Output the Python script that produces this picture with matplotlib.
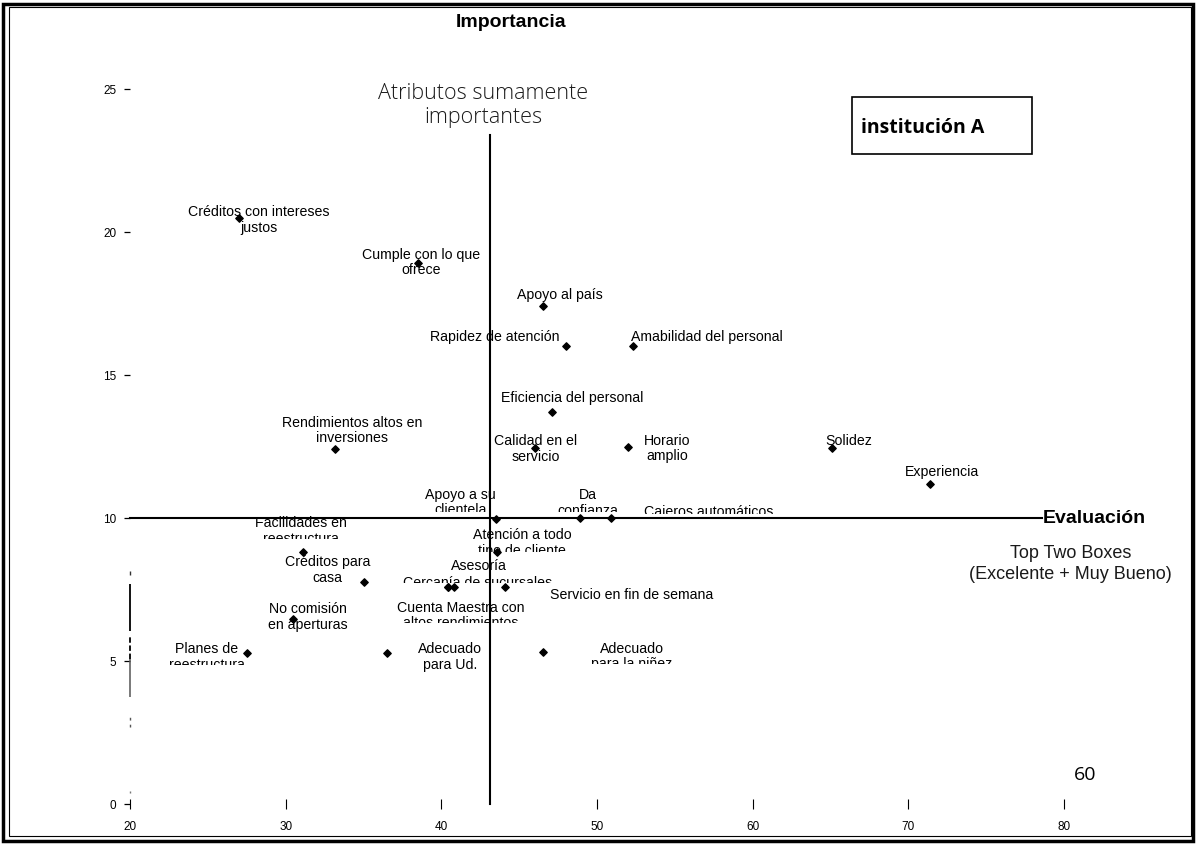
import matplotlib
matplotlib.use("Agg")
import matplotlib.pyplot as plt
from matplotlib.patches import Rectangle
from matplotlib.transforms import Bbox, TransformedBbox

# ---------------- data ----------------
atributos = [
    "Créditos con intereses\njustos",
    "Cumple con lo que\nofrece",
    "Apoyo al país",
    "Rapidez de atención",
    "Amabilidad del personal",
    "Eficiencia del personal",
    "Calidad en el\nservicio",
    "Horario\namplio",
    "Rendimientos altos en\ninversiones",
    "Solidez",
    "Experiencia",
    "Apoyo a su\nclientela",
    "Da\nconfianza",
    "Cajeros automáticos",
    "Facilidades en\nreestructura",
    "Atención a todo\ntipo de cliente",
    "Créditos para\ncasa",
    "Asesoría",
    "Cercanía de sucursales",
    "Servicio en fin de semana",
    "No comisión\nen aperturas",
    "Cuenta Maestra con\naltos rendimientos",
    "Planes de\nreestructura",
    "Adecuado\npara Ud.",
    "Adecuado\npara la niñez",
]
evaluacion = [27.0, 38.5, 46.5, 48.0, 52.3, 47.1, 46.0, 52.0, 33.2, 65.1, 71.4,
              43.5, 48.9, 50.9, 31.1, 43.6, 35.0, 40.8, 40.4, 44.1, 30.5, 40.4,
              27.5, 36.5, 46.5]
importancia = [20.5, 18.9, 17.4, 16.0, 16.0, 13.7, 12.45, 12.5, 12.4, 12.45, 11.2,
               9.95, 10.0, 10.0, 8.8, 8.8, 7.76, 7.6, 7.6, 7.6, 6.47, 7.6,
               5.28, 5.28, 5.3]

x_ticks = [20, 30, 40, 50, 60, 70, 80]
y_ticks = [0, 5, 10, 15, 20, 25]
corte_evaluacion = 43.1
corte_importancia = 10

# ---------------- layout (label offsets in pixels, clipping) ----------------
offsets = [(20, -1), (3, 2), (17, 12), (-71, 10), (74, 10), (20, 15), (1, 0), (39, -1),
           (17, 20), (17, 8), (12, 13), (-35, 18), (8, 16), (98, 7), (-2, 22),
           (25, 10), (-36, 13), (25, 22), (30, 5), (126, -7), (14, 3), (13, -28),
           (-40, -3), (63, -3), (89, -3)]
clips = [None, None, None, None, None, None, None, None, None, None, None,
         10.2, 10.2, 10.14, 9.27, 8.8, None, None, 7.72, None, None, 6.33,
         4.87, None, 4.9]

W, H = 1196, 845
fig = plt.figure(figsize=(W / 100, H / 100), dpi=100)
fig.patch.set_facecolor("white")

px_per_x = (1064 - 130) / 60.0
px_per_y = (805 - 90) / 25.0
left_px, right_px = 130, 1190
bottom_px, top_px = 805, 6
ax = fig.add_axes([left_px / W, (H - bottom_px) / H,
                   (right_px - left_px) / W, (bottom_px - top_px) / H])
ax.set_xlim(20, 20 + (right_px - left_px) / px_per_x)
ax.set_ylim(0, (bottom_px - top_px) / px_per_y)
ax.set_facecolor("white")

for s in ax.spines.values():
    s.set_visible(False)

ax.set_xticks(x_ticks)
ax.set_xticklabels([str(v) for v in x_ticks])
ax.set_yticks(y_ticks)
ax.set_yticklabels([str(v) for v in y_ticks])
ax.tick_params(axis="x", direction="inout", length=7, width=0.8, pad=8,
               labelsize=8.5, colors="black")
ax.tick_params(axis="y", direction="out", length=4, width=0.9, pad=6,
               labelsize=8.5, colors="black")
for t in ax.get_yticklabels() + ax.get_xticklabels():
    t.set_fontfamily("Liberation Sans")

# broken left axis fragment
kw = dict(clip_on=False, solid_capstyle="butt")
ax.plot([20, 20], [6.05, 7.69], color="black", lw=1.3, **kw)
ax.plot([20, 20], [5.07, 5.87], color="black", lw=1.3, ls=(0, (3, 1.5)), clip_on=False)
ax.plot([20, 20], [3.74, 5.07], color="#555555", lw=1.1, **kw)
ax.plot([20, 20], [2.69, 3.15], color="#555555", lw=1.0, ls=(0, (2, 3)), clip_on=False)
ax.plot([20, 20], [8.0, 8.15], color="#333333", lw=1.0, **kw)
ax.plot([20, 20], [0.38, 0.46], color="#777777", lw=1.0, **kw)

# quadrant lines
ax.plot([20, 78.6], [corte_importancia, corte_importancia], color="black", lw=1.5,
        clip_on=False)
ax.plot([corte_evaluacion, corte_evaluacion], [0, 23.4], color="black", lw=1.5,
        clip_on=False)

# points
ax.scatter(evaluacion, importancia, marker="D", s=14, color="black", zorder=5)

for name, x, y, (dx, dy), clip in zip(atributos, evaluacion, importancia, offsets, clips):
    a = ax.annotate(name, (x, y), xytext=(dx, dy), textcoords="offset pixels",
                    ha="center", va="center", fontsize=10.2,
                    fontfamily="Liberation Sans", color="black",
                    linespacing=1.15, zorder=4)
    if clip is not None:
        a.set_clip_on(True)
        a.set_clip_box(TransformedBbox(Bbox([[0, clip], [200, 100]]), ax.transData))

# titles / annotations
ax.text(44.5, 27.35, "Importancia", ha="center", va="center", fontsize=14,
        fontweight="bold", fontfamily="Liberation Sans")
ax.text(42.7, 24.47, "Atributos sumamente\nimportantes", ha="center", va="center",
        fontsize=15.5, fontfamily="Open Sans", fontweight="light", color="#1a1a1a",
        linespacing=1.2)
ax.text(78.65, 10.0, "Evaluación", ha="left", va="center", fontsize=14,
        fontweight="bold", fontfamily="Liberation Sans")
ax.text(80.4, 8.43, "Top Two Boxes\n(Excelente + Muy Bueno)", ha="center",
        va="center", fontsize=13, fontfamily="Liberation Sans", color="#1a1a1a",
        linespacing=1.35)
ax.text(66.95, 23.67, "institución A", ha="left", va="center",
        fontsize=14, fontweight="bold", fontfamily="Open Sans")
box = Rectangle((852 / W, 1 - 155 / H), (1032 - 852) / W, (155 - 98) / H,
                transform=fig.transFigure, fill=False, lw=1.2, ec="black")
fig.patches.append(box)
fig.text(1085 / W, 1 - 775 / H, "60", ha="center", va="center", fontsize=14,
         fontfamily="Open Sans")

# page frame (double border)
fig.patches.append(Rectangle((3 / W, 3 / H), (W - 6) / W, (H - 8) / H,
                             transform=fig.transFigure, fill=False, lw=2.5, ec="black"))
fig.patches.append(Rectangle((9 / W, 8 / H), (W - 14) / W, (H - 16) / H,
                             transform=fig.transFigure, fill=False, lw=0.8, ec="black"))

fig.savefig("out.png", dpi=100, facecolor="white")
